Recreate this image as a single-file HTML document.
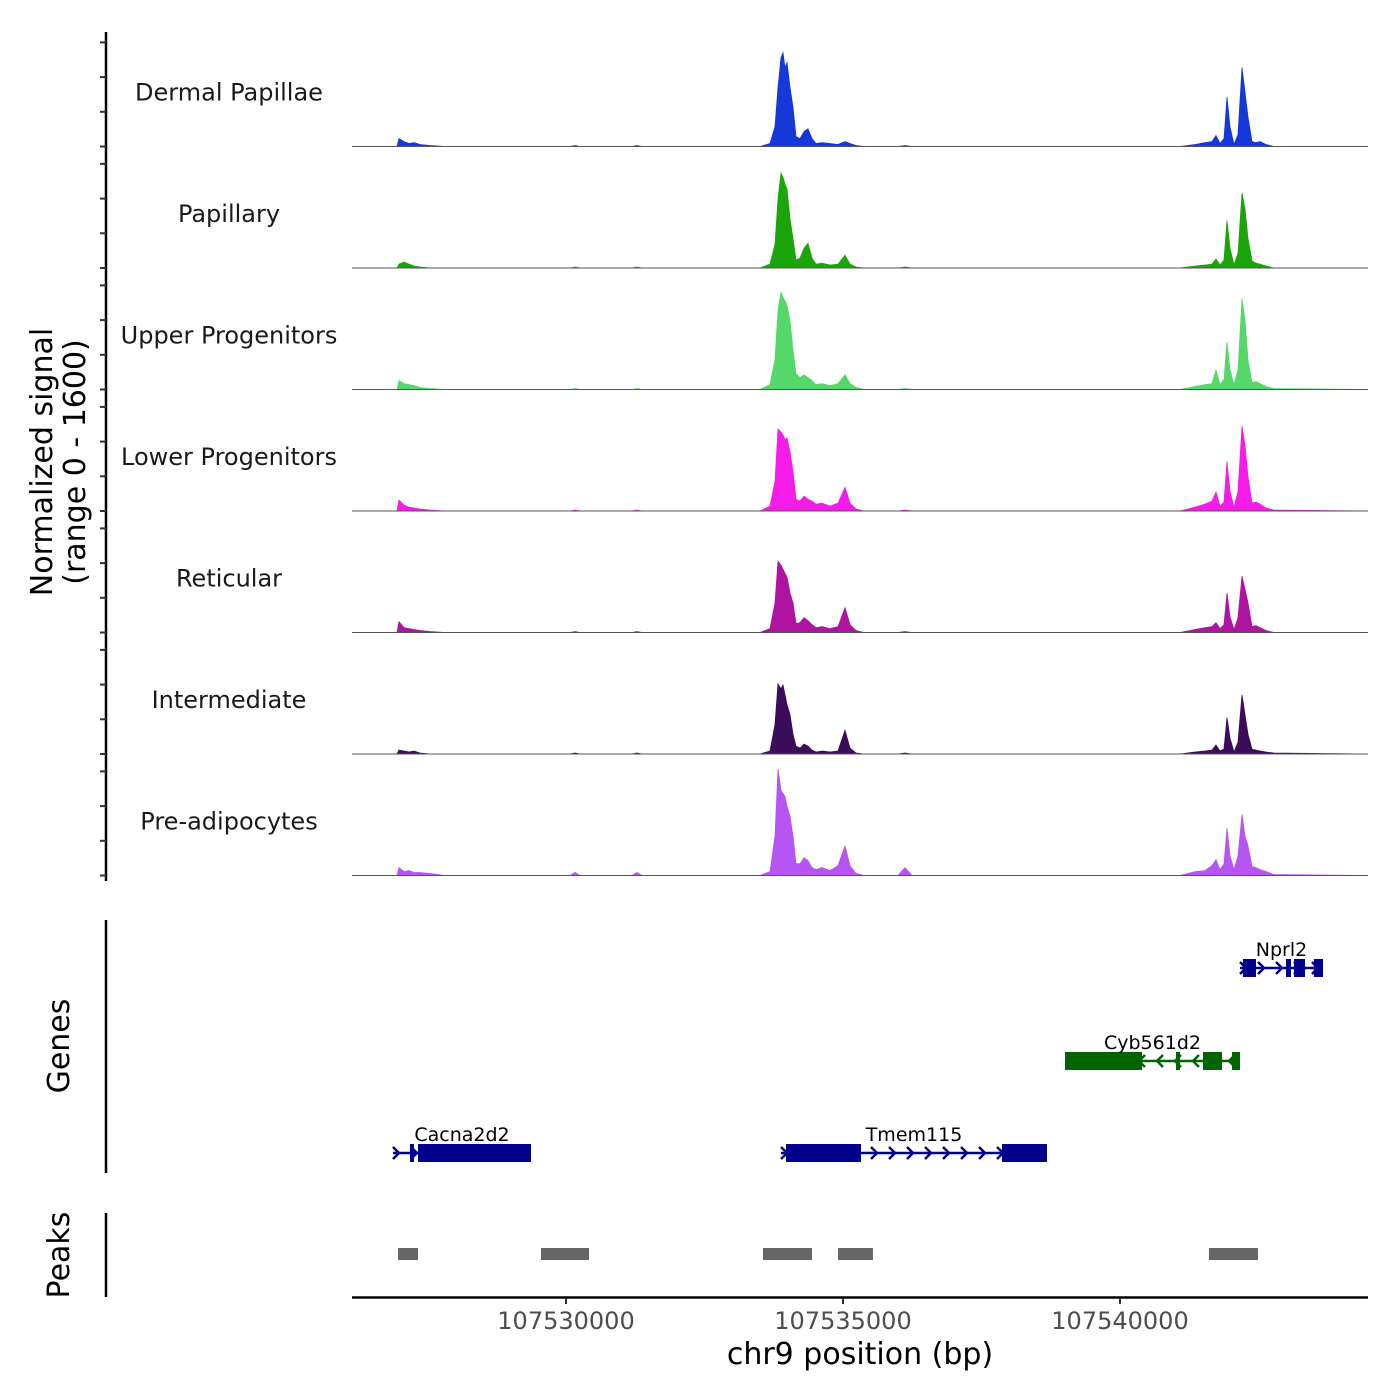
<!DOCTYPE html>
<html><head><meta charset="utf-8">
<style>
html,body{margin:0;padding:0;background:#fff;}
svg{display:block;font-family:"DejaVu Sans","Liberation Sans",sans-serif;}
</style></head>
<body>
<svg id="chart" width="1400" height="1400" viewBox="0 0 1400 1400" xmlns="http://www.w3.org/2000/svg">
  <g id="tracks"></g>
  <g id="yaxis"></g>
  <text x="52" y="462" font-size="30" fill="#000" text-anchor="middle" transform="rotate(-90 52 462)">Normalized signal</text>
  <text x="85" y="462" font-size="30" fill="#000" text-anchor="middle" transform="rotate(-90 85 462)">(range 0 - 1600)</text>
  <line x1="106" y1="920" x2="106" y2="1173" stroke="#000" stroke-width="2.5"/>
  <text x="69" y="1046" font-size="30" text-anchor="middle" transform="rotate(-90 69 1046)">Genes</text>
  <g id="genes"></g>
  <line x1="106" y1="1213" x2="106" y2="1297" stroke="#000" stroke-width="2.5"/>
  <text x="69" y="1255" font-size="30" text-anchor="middle" transform="rotate(-90 69 1255)">Peaks</text>
  <g id="peaks"></g>
  <g id="xaxis"></g>
  <text x="860" y="1364" font-size="30" text-anchor="middle" fill="#000">chr9 position (bp)</text>
</svg>
<script>
const positions = [107526137,107526950,107526986,107527076,107527166,107527256,107527365,107527545,107527816,
 107530072,107530162,107530253,107531191,107531282,107531372,
 107533502,107533682,107533772,107533827,107533881,107533917,107533953,107533989,107534043,107534097,107534151,107534224,107534296,107534368,107534440,107534513,107534621,107534765,107534910,107535036,107535126,107535235,107535379,
 107535993,107536119,107536245,
 107541083,107541353,107541534,107541660,107541733,107541805,107541877,107541931,107541985,107542057,107542130,107542202,107542256,107542310,107542382,107542454,107542527,107542635,107542779,107544476];
const trackNames = ["Dermal Papillae","Papillary","Upper Progenitors","Lower Progenitors","Reticular","Intermediate","Pre-adipocytes"];
const trackColors = ["#1538d8","#1ba50a","#55d86a","#f41ce6","#b0139f","#3a0c5a","#b655f2"];
const sigDermal = [0,0,104,65,39,52,26,13,0, 0,13,0,0,13,0, 0,39,260,780,1170,1235,1040,1105,780,520,130,104,195,234,104,39,52,39,26,65,39,13,0, 0,13,0, 0,26,52,65,143,39,104,650,260,26,156,1040,715,390,65,52,65,26,0,0];
const sigPapillary = [0,0,52,78,52,26,13,0,0, 0,13,0,0,13,0, 0,52,312,910,1248,1196,1105,1040,650,390,104,130,260,325,130,52,65,39,52,169,52,13,0, 0,13,0, 0,26,39,52,117,39,104,624,260,39,195,988,780,390,91,65,52,26,0,0];
const sigUpper = [0,0,117,78,65,52,26,13,0, 0,13,0,0,13,0, 0,65,390,1040,1287,1209,1170,1105,910,520,208,156,195,156,117,65,78,52,78,195,78,26,0, 0,13,0, 0,39,65,78,260,65,130,624,260,65,260,1196,910,390,91,104,78,39,13,0];
const sigLower = [0,0,143,78,52,39,26,13,0, 0,13,0,0,13,0, 0,65,390,1079,1040,1001,936,962,780,520,156,130,195,156,130,91,104,65,104,312,104,26,0, 0,13,0, 0,52,91,130,247,65,117,650,260,52,260,1118,858,455,104,117,91,39,13,0];
const sigReticular = [0,0,143,65,52,39,26,13,0, 0,13,0,0,13,0, 0,52,390,936,884,832,780,728,520,390,117,130,195,156,104,65,78,52,78,325,104,26,0, 0,13,0, 0,39,65,78,130,52,104,520,208,39,195,741,572,390,78,91,65,26,0,0];
const sigIntermediate = [0,0,52,39,26,39,13,0,0, 0,13,0,0,13,0, 0,39,390,923,858,910,780,650,520,260,104,78,130,104,52,26,39,26,39,312,78,13,0, 0,13,0, 0,26,39,52,117,39,65,481,208,26,156,780,520,260,65,52,39,26,13,0];
const sigPreadipocytes = [0,0,104,52,65,39,39,26,0, 0,39,0,0,39,0, 0,52,520,1404,1118,1079,1040,910,780,520,156,156,234,195,104,78,104,65,130,390,130,26,0, 0,104,0, 0,52,65,130,208,78,156,624,260,78,260,806,520,390,117,104,78,52,13,0];
const signals = [sigDermal,sigPapillary,sigUpper,sigLower,sigReticular,sigIntermediate,sigPreadipocytes];
const yTicks = [0,457,914,1371];
const xTicks = [107530000,107535000,107540000];
const xTickLabels = ["107530000","107535000","107540000"];
const genes = [
 {name:"Nprl2", strand:1, start:107542166, end:107543664, row:0, color:"#00008b", exons:[[107542220,107542455],[107542996,107543086],[107543140,107543339],[107543501,107543664]]},
 {name:"Cyb561d2", strand:-1, start:107539007, end:107542166, row:1, color:"#006400", exons:[[107539007,107540397],[107541011,107541083],[107541498,107541841],[107542021,107542166]]},
 {name:"Cacna2d2", strand:1, start:107526877, end:107529368, row:2, color:"#00008b", exons:[[107527184,107527256],[107527329,107529368]]},
 {name:"Tmem115", strand:1, start:107533881, end:107538682, row:2, color:"#00008b", exons:[[107533971,107535325],[107537870,107538682]]}
];
const peakStarts = [107526968,107529549,107533556,107534910,107541606];
const peakEnds = [107527329,107530415,107534440,107535541,107542491];

const NS="http://www.w3.org/2000/svg";
function el(tag, attrs, parent){const e=document.createElementNS(NS,tag);for(const k in attrs)e.setAttribute(k,attrs[k]);parent.appendChild(e);return e;}
const X0=352, X1=1368;
function xs(bp){return 566 + (bp-107530000)*277/5000;}
const trackH=121.5, firstBase=146.5, yMax=1600;
function ys(v,i){return firstBase + i*trackH - v/yMax*trackH;}

const gT=document.getElementById('tracks');
signals.forEach((sig,i)=>{
  const base=ys(0,i);
  let d=`M${X0},${base}`;
  positions.forEach((p,j)=>{d+=` L${xs(p).toFixed(1)},${ys(sig[j],i).toFixed(1)}`;});
  d+=` L${X1},${base} Z`;
  const a=el('path',{d:d,fill:trackColors[i],stroke:trackColors[i],'stroke-width':0.8},gT);
  
  
  const bl=el('line',{x1:X0,x2:X1,y1:base,y2:base,stroke:'#555',"stroke-width":1},gT);
  
  
  const t=el('text',{x:229,y:base-46,'font-size':24,'text-anchor':'middle',fill:'#1a1a1a'},gT);
  t.textContent=trackNames[i];
  
  
});
const gY=document.getElementById('yaxis');
const yl=el('line',{x1:106,x2:106,y1:32,y2:881,stroke:'#000','stroke-width':2.5},gY);


for(let i=0;i<signals.length;i++){
  yTicks.forEach(v=>{
    const y=ys(v,i);
    const tk=el('line',{x1:100,x2:106,y1:y,y2:y,stroke:'#333','stroke-width':2},gY);
    
    
  });
}
const gG=document.getElementById('genes');
const rowY=[968,1061,1153];
genes.forEach(g=>{
  const y=rowY[g.row];
  const grp=el('g',{},gG);
  
  
  el('line',{x1:xs(g.start),x2:xs(g.end),y1:y,y2:y,stroke:g.color,'stroke-width':2.5},grp);
  const sx=xs(g.start), ex=xs(g.end);
  for(let x=sx+4;x<ex-2;x+=18){
    const s=g.strand>0?1:-1;
    el('polyline',{points:`${x-4*s},${y-6} ${x+2*s},${y} ${x-4*s},${y+6}`,fill:'none',stroke:g.color,'stroke-width':2.5},grp);
  }
  g.exons.forEach(e=>{
    const r=el('rect',{x:xs(e[0]),y:y-9,width:Math.max(3,xs(e[1])-xs(e[0])),height:18,fill:g.color},grp);
    
    
  });
  const t=el('text',{x:(sx+ex)/2,y:y-12,'font-size':19,'text-anchor':'middle',fill:'#000'},grp);
  t.textContent=g.name;
  
  
});
const gP=document.getElementById('peaks');
peakStarts.forEach((s,i)=>{
  const r=el('rect',{x:xs(s),y:1248,width:xs(peakEnds[i])-xs(s),height:12,fill:'#666'},gP);
  
  
});
const gX=document.getElementById('xaxis');
const xl=el('line',{x1:X0,x2:X1,y1:1297.5,y2:1297.5,stroke:'#000','stroke-width':2.5},gX);


xTicks.forEach((v,i)=>{
  const x=xs(v);
  const tk=el('line',{x1:x,x2:x,y1:1298,y2:1304,stroke:'#333','stroke-width':2},gX);
  
  
  const t=el('text',{x:x,y:1329,'font-size':24,'text-anchor':'middle',fill:'#4d4d4d'},gX);
  t.textContent=xTickLabels[i];
  
  
});
</script>
</body></html>
